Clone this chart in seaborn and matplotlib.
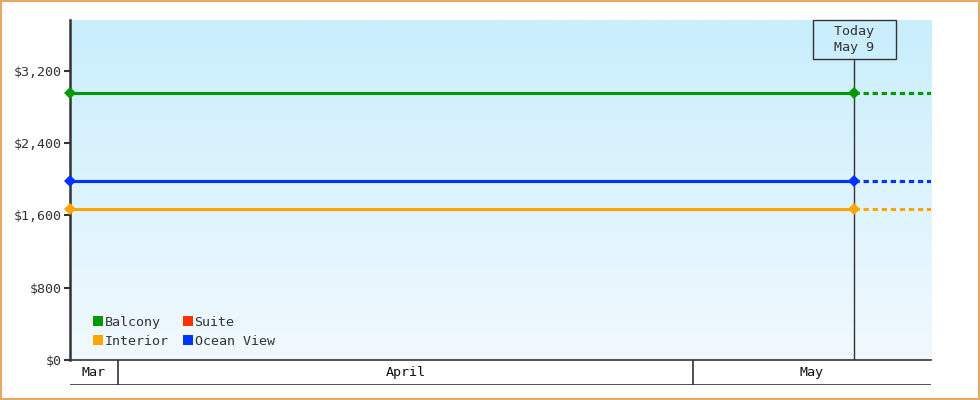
import pandas as pd
import numpy as np
import matplotlib
matplotlib.use("Agg")
import matplotlib.pyplot as plt
from matplotlib.colors import LinearSegmentedColormap
from matplotlib.patches import Patch, Rectangle
import seaborn as sns

# --- data ---
cabins = ["Balcony", "Interior", "Suite", "Ocean View"]
colors = ["#009900", "#ffa500", "#ff3300", "#0033ff"]
line_cabins = ["Balcony", "Ocean View", "Interior"]
start_price = [2950, 1975, 1670]
today_price = [2950, 1975, 1670]
start_date = pd.Timestamp("2024-03-29 12:00")
today = pd.Timestamp("2024-05-09 10:00")
end_date = pd.Timestamp("2024-05-13 10:00")
month_edges = [pd.Timestamp("2024-04-01"), pd.Timestamp("2024-05-01")]
month_names = ["Mar", "April", "May"]
y_ticks = [0, 800, 1600, 2400, 3200]
y_max = 3760

palette = dict(zip(cabins, colors))

hist = pd.DataFrame({
    "date": [start_date] * 3 + [today] * 3,
    "price": start_price + today_price,
    "cabin": line_cabins * 2,
})
proj = pd.DataFrame({
    "date": [today] * 3 + [end_date] * 3,
    "price": today_price + today_price,
    "cabin": line_cabins * 2,
})

sns.set_theme(style="white")
plt.rcParams["font.family"] = ["DejaVu Sans Mono"]
ink = "#333333"
fs = 9.6

fig = plt.figure(figsize=(9.8, 4), dpi=100)
ax = fig.add_axes([70 / 980, 40 / 400, 861 / 980, 340 / 400])

# gradient background (light blue at top, near white at bottom)
grad = np.linspace(0, 1, 256).reshape(-1, 1)
cmap = LinearSegmentedColormap.from_list("bg", ["#c9eefc", "#f1f9fe"])
ax.imshow(grad, aspect="auto", cmap=cmap, extent=[0, 1, 0, 1],
          transform=ax.transAxes, zorder=0)

sns.lineplot(data=proj, x="date", y="price", hue="cabin", palette=palette,
             linewidth=2.25, linestyle=(0, (1.7, 1.2)), legend=False, ax=ax,
             zorder=2)
sns.lineplot(data=hist, x="date", y="price", hue="cabin", palette=palette,
             marker="D", markersize=6, markeredgewidth=0, linewidth=2.25,
             legend=False, ax=ax, zorder=5, clip_on=False)

ax.set_xlim(start_date, end_date)
ax.set_ylim(0, y_max)
ax.set_xlabel("")
ax.set_ylabel("")
ax.set_xticks([])
ax.set_yticks(y_ticks)
ax.set_yticklabels([f"${v:,}" for v in y_ticks], fontsize=fs, color=ink)
ax.tick_params(axis="y", direction="out", length=4, width=1.5, color=ink,
               pad=2, left=True)
for side in ["top", "right"]:
    ax.spines[side].set_visible(False)
ax.spines["left"].set_color(ink)
ax.spines["left"].set_linewidth(1.8)
ax.spines["bottom"].set_color(ink)
ax.spines["bottom"].set_linewidth(1.2)

# today marker
ax.axvline(today, ymin=0, ymax=0.882, color=ink, linewidth=1, zorder=1)
ax.text(today, y_max - 55, "  Today  \nMay 9", ha="center", va="top",
        fontsize=fs, color=ink, linespacing=1.3, zorder=4,
        bbox=dict(boxstyle="square,pad=0.4", facecolor="none",
                  edgecolor=ink, linewidth=1))

# legend
handles = [Patch(facecolor=palette[c], edgecolor="none") for c in cabins]
ax.legend(handles, cabins, loc="lower left", bbox_to_anchor=(0.013, 0.0),
          ncol=2, frameon=False, fontsize=fs, handlelength=0.75,
          handleheight=0.75, handletextpad=0.15, columnspacing=1.0,
          labelspacing=0.45, labelcolor=ink)

# month band
mx = fig.add_axes([70 / 980, 15 / 400, 861 / 980, 25 / 400], sharex=ax)
mx.set_ylim(0, 1)
mx.axis("off")
mx.axhline(0, color=ink, linewidth=1.2)
for edge in month_edges:
    mx.axvline(edge, color=ink, linewidth=1.2)
bounds = [start_date] + month_edges + [end_date]
for i, name in enumerate(month_names):
    mid = bounds[i] + (bounds[i + 1] - bounds[i]) / 2
    mx.text(mid, 0.5, name, ha="center", va="center", fontsize=fs, color="#111111")

# outer frame
fig.patches.append(Rectangle((0.001, 0.002), 0.998, 0.996, transform=fig.transFigure,
                             fill=False, edgecolor="#e8a865", linewidth=1.5))

fig.savefig("out.png", dpi=100)
